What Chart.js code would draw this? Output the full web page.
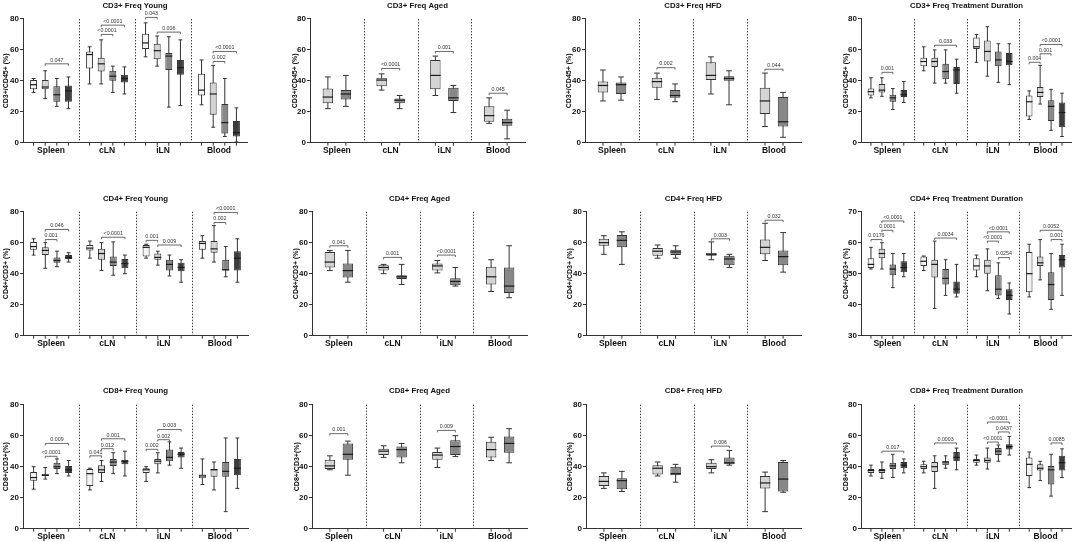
<!DOCTYPE html>
<html><head><meta charset="utf-8">
<script src="https://cdn.jsdelivr.net/npm/chart.js@4.4.1/dist/chart.umd.min.js"></script>
<style>
html,body{margin:0;padding:0;background:#fff;}
body{width:1072px;height:542px;position:relative;overflow:hidden;}
canvas{position:absolute;}
</style></head><body>
<script>
// ---------- DATA: each box = [min, q1, median, q3, max] per tissue ----------
const tissues = ['Spleen','cLN','iLN','Blood'];

// CD3+ Freq Young
const cd3YoungG1 = [[32.5,34.5,37.5,40.5,41.5],[38,48,57,59,62],[55.5,60.5,64.5,70.5,77.5],[24.5,30.5,34,44.5,53.5]];
const cd3YoungG2 = [[28.5,34.5,36,40.5,46.5],[38,46,51,55,66.5],[49.5,54,59.5,64,69],[10,18,31.5,39,50]];
const cd3YoungG3 = [[23.5,26.5,31,36.5,41.5],[32.5,40,43,46.5,49.5],[23,47,56,58,68.5],[4,6,13,25,41.5]];
const cd3YoungG4 = [[22,26.5,33.5,37,42.5],[31.5,39,41.5,44,49],[24,44,48.5,53.5,66.5],[0.5,4,6.5,14,22.5]];
const cd3YoungSig = [[0,1,3,51,'0.047'],[1,1,3,76,'<0.0001'],[1,1,2,70,'<0.0001'],[2,0,1,81,'0.043'],[2,1,3,71.5,'0.006'],[3,1,3,59,'<0.0001'],[3,1,2,52.5,'0.002']];

// CD3+ Freq Aged
const cd3AgedG1 = [[22,25.5,29.5,35,42.5],[34,36.5,40.5,42,44.5],[30.5,34.5,43.5,53.5,56],[12.5,13.5,17.5,23.5,29]];
const cd3AgedG2 = [[23.5,28,31.5,34,43.5],[22,25.5,27.5,28.5,30.5],[19.5,27,29,35.5,37],[2.5,11,13,15.5,21]];
const cd3AgedSig = [[1,0,1,48,'<0.0001'],[2,0,1,59,'0.001'],[3,0,1,32,'0.045']];

// CD3+ Freq HFD
const cd3HfdG1 = [[27,32.5,37,39.5,47],[28,35.5,39.5,42,45],[31.5,40.5,43.5,52,55.5],[10.5,18.5,27,35.5,45]];
const cd3HfdG2 = [[27.5,31.5,37.5,39,42.5],[26.5,29,30.5,34,38],[24.5,40,41.5,43,46.5],[3.5,10.5,13.5,29.5,32.5]];
const cd3HfdSig = [[1,0,1,48.5,'0.002'],[3,0,1,47.5,'0.044']];

// CD3+ Freq Treatment Duration
const cd3DurG1 = [[29,30.5,33,35,42],[46.5,49.5,52.5,55,62],[52,60.5,62,68,70],[15,17,26.5,30.5,33.5]];
const cd3DurG2 = [[30,32.5,34,38,42],[38.5,49,52.5,55,60],[43,52.5,59,66,75],[25,29.5,32.5,36,50]];
const cd3DurG3 = [[21.5,26.5,29,31,35],[38.5,41,46,51,60],[39,49.5,53.5,59,64],[8,14,23.5,27.5,34.5]];
const cd3DurG4 = [[26,29.5,31,34,39.5],[32,38,47,49,54],[37.5,50,52.5,58,64],[4,10,19.5,26,32]];
const cd3DurSig = [[0,1,2,45.5,'0.001'],[1,1,3,63,'0.033'],[3,0,1,52,'0.004'],[3,1,2,57.5,'0.001'],[3,1,3,63.5,'<0.0001']];

// CD4+ Freq Young
const cd4YoungG1 = [[52,55.5,57.5,60.5,62.5],[50,55,56.5,58.5,61],[50,51,57,58.5,59],[50,55.5,59.5,61,64.5]];
const cd4YoungG2 = [[43.5,52,55,57,60],[42,49,53,56,60],[45.5,49,50.5,53,54.5],[47.5,53.5,56,61,71]];
const cd4YoungG3 = [[44.5,47,48.5,50.5,54.5],[39,45,47.5,51,60.5],[38.5,42,46,49,52],[38,42,42.5,49,57.5]];
const cd4YoungG4 = [[47.5,49.5,50.5,52,53.5],[40,43.5,46.5,49.5,52],[34.5,41.5,44,47,49],[34.5,42,50,54.5,62.5]];
const cd4YoungSig = [[0,1,3,68.5,'0.046'],[0,1,2,62,'0.001'],[1,1,3,63.5,'<0.0001'],[2,0,1,61.5,'0.001'],[2,1,3,58.5,'0.009'],[3,1,3,79.5,'<0.0001'],[3,1,2,73,'0.002']];

// CD4+ Freq Aged
const cd4AgedG1 = [[42,44,47.5,54,55],[40,42,44,45.5,46],[40.5,42,45,46.5,48.5],[28.5,33,38,44.5,49]];
const cd4AgedG2 = [[34.5,37.5,42,46.5,55],[33,36.5,38,39,46],[32,32.5,35,37,44],[24.5,27.5,32,44,58]];
const cd4AgedSig = [[0,0,1,58,'0.041'],[1,0,1,50.5,'0.001'],[2,0,1,52,'<0.0001']];

// CD4+ Freq HFD
const cd4HfdG1 = [[52.5,58,60,62.5,64.5],[50,51.5,54.5,56.5,58.5],[49,51.5,52.5,53.5,60.5],[48.5,52.5,57,62,72.5]];
const cd4HfdG2 = [[46,57,61.5,65,67],[50,52,54,55.5,58],[44,45.5,49.5,51.5,52.5],[41,45.5,51,55,66.5]];
const cd4HfdSig = [[2,0,1,62.5,'0.003'],[3,0,1,74.5,'0.032']];

// CD4+ Freq Treatment Duration
const cd4DurG1 = [[51.5,51.8,53,55,58.5],[51,52.5,54,55.5,55.7],[49,51,52.5,55,56],[42.5,44,50,57,59.5]];
const cd4DurG2 = [[51.5,55,56.5,58,60],[38.8,48.8,53,54.5,60.5],[44.5,50,52.5,54.5,58],[48,52.5,53.5,55.5,61]];
const cd4DurG3 = [[45.5,49.5,51.5,53,56.5],[43,46.5,48.5,51.5,54.5],[42,43,45,49.5,53.5],[38.5,41.5,46.5,50.5,56.5]];
const cd4DurG4 = [[49,50.5,52,54,56.5],[42.5,43.5,45,47.5,53],[37,41.5,43,45,47],[43,52,54.5,56,59.5]];
const cd4DurSig = [[0,0,1,61,'0.0176'],[0,1,2,64,'0.0001'],[0,1,3,67,'<0.0001'],[1,1,3,61.5,'0.0034'],[2,1,3,63.5,'<0.0001'],[2,1,2,60.5,'<0.0001'],[2,2,3,55.2,'0.0254'],[3,1,3,64,'0.0052'],[3,2,3,61,'0.001']];

// CD8+ Freq Young
const cd8YoungG1 = [[25.5,31,33,36.5,40],[25,27.5,35.5,38.5,39],[30.5,36,38,39,40],[28.5,32.5,34,35,45]];
const cd8YoungG2 = [[32,34,34.5,35.5,39.5],[30.5,36,38,41,44],[36,41.5,43.5,45,49],[25,33.5,38,38.5,43]];
const cd8YoungG3 = [[35.5,38.5,40,42.5,45],[35.5,40.5,43,45,49],[41,43.5,46,51,56],[11,33.5,37,43,58.5]];
const cd8YoungG4 = [[34,36,38,40.5,44],[34,41.5,43.5,44.5,50],[39,46,48,49.5,52],[26,34.5,39,45,58.5]];
const cd8YoungSig = [[0,1,3,55,'0.009'],[0,1,2,46.7,'<0.0001'],[1,0,1,47,'0.041'],[1,1,2,51.6,'0.012'],[1,1,3,58,'0.001'],[2,0,1,51.2,'0.002'],[2,1,2,57.4,'0.002'],[2,1,3,64,'0.003']];

// CD8+ Freq Aged
const cd8AgedG1 = [[38,38.5,40.5,44.5,47],[46,47.5,50,51.5,53.5],[39.5,44.5,47.5,49.5,52],[44,46,51,56,59]];
const cd8AgedG2 = [[34.5,44.5,48,55,56.5],[42.5,46,51,53,55],[46.5,47.5,53,57,60],[42.5,49,55,59.5,64.5]];
const cd8AgedSig = [[0,0,1,61.3,'0.001'],[2,0,1,63.4,'0.009']];

// CD8+ Freq HFD
const cd8HfdG1 = [[26,27.5,30.5,34,36],[34,35,39,41,43],[36,38.5,40,42.5,44.5],[11,26,29.5,34,36.5]];
const cd8HfdG2 = [[24,25.5,31,32.5,37],[30,34.5,35.5,40,41.5],[41,41.5,42.5,46,50.5],[23.5,24,32,43,44]];
const cd8HfdSig = [[2,0,1,53.3,'0.006']];

// CD8+ Freq Treatment Duration
const cd8DurG1 = [[34,36,37.5,38.5,41],[36,38.5,40,41.5,43.5],[41,42.5,44,45,47.5],[26.5,34,41.5,46,49.5]];
const cd8DurG2 = [[32.5,36,37.5,38.5,43],[26,36.5,40,43,47],[38.5,42.5,44,46,52],[31,37.5,39,41.5,43.5]];
const cd8DurG3 = [[33,38.5,40.5,42.5,48],[39,41,43,43.5,47],[43.5,47.5,50,52,54],[21,28.5,38,40.5,48]];
const cd8DurG4 = [[36,39,41,43,45],[38,43.5,46,49.5,52],[47.5,51,53,54.5,59.5],[33,37.5,42.5,47,51.5]];
const cd8DurSig = [[0,1,3,50,'0.017'],[1,1,3,55.3,'0.0003'],[2,1,3,68.8,'<0.0001'],[2,2,3,62.4,'0.0437'],[2,1,2,55.9,'<0.0001'],[3,2,3,55.3,'0.0085']];

const titles = [
  ['CD3+ Freq Young','CD3+ Freq Aged','CD3+ Freq HFD','CD3+ Freq Treatment Duration'],
  ['CD4+ Freq Young','CD4+ Freq Aged','CD4+ Freq HFD','CD4+ Freq Treatment Duration'],
  ['CD8+ Freq Young','CD8+ Freq Aged','CD8+ Freq HFD','CD8+ Freq Treatment Duration']
];
const yTitles = ['CD3+/CD45+ (%)','CD4+/CD3+ (%)','CD8+/CD3+(%)'];
const yRanges = [[[0,80,20],[0,80,20],[0,80,20],[0,80,20]],[[0,80,20],[0,80,20],[0,80,20],[30,70,10]],[[0,80,20],[0,80,20],[0,80,20],[0,80,20]]];

const panelSeries = [
  [[cd3YoungG1,cd3YoungG2,cd3YoungG3,cd3YoungG4],[cd3AgedG1,cd3AgedG2],[cd3HfdG1,cd3HfdG2],[cd3DurG1,cd3DurG2,cd3DurG3,cd3DurG4]],
  [[cd4YoungG1,cd4YoungG2,cd4YoungG3,cd4YoungG4],[cd4AgedG1,cd4AgedG2],[cd4HfdG1,cd4HfdG2],[cd4DurG1,cd4DurG2,cd4DurG3,cd4DurG4]],
  [[cd8YoungG1,cd8YoungG2,cd8YoungG3,cd8YoungG4],[cd8AgedG1,cd8AgedG2],[cd8HfdG1,cd8HfdG2],[cd8DurG1,cd8DurG2,cd8DurG3,cd8DurG4]]
];
const panelSig = [
  [cd3YoungSig,cd3AgedSig,cd3HfdSig,cd3DurSig],
  [cd4YoungSig,cd4AgedSig,cd4HfdSig,cd4DurSig],
  [cd8YoungSig,cd8AgedSig,cd8HfdSig,cd8DurSig]
];

// ---------- LAYOUT / STYLE ----------
const FONT = '"Liberation Sans", Arial, Helvetica, sans-serif';
const fill4 = ['#f3f3f3','#d4d4d4','#888888','#3c3c3c'];
const fill2 = ['#d4d4d4','#888888'];
const colX = [0,268,536,804];
const colW = [268,268,268,268];
const rowY = [0,180,360];
const rowH = [180,180,182];
const plotL = [[23,310,585,861],[23,312,586,861],[23,312,586,861]];
const plotR = [[247,525,801,1072],[248,527,801,1072],[248,527,801,1072]];
const yTitleX = [[6,26.7,33,41.7],[5.7,27.7,34.3,41.7],[5.7,29.3,34.3,41.7]];
const rowPadTop = [1.5,13.8,26.5];
const rowTitleGap = [8.5,8.9,9.2];
const rowXH = [37.3,24.3,13.3];

function boxPlugin(sig){
  return {
    id:'boxplot',
    beforeDatasetsDraw(chart){
      const {ctx, chartArea:a, scales:{x,y}} = chart;
      ctx.save();
      ctx.strokeStyle = '#444'; ctx.lineWidth = 1; ctx.setLineDash([1.5,1.5]);
      const n = chart.data.labels.length;
      for (let i=0;i<n-1;i++){
        const px = Math.round((x.getPixelForValue(i)+x.getPixelForValue(i+1))/2)+0.5;
        ctx.beginPath(); ctx.moveTo(px,a.top); ctx.lineTo(px,a.bottom); ctx.stroke();
      }
      ctx.setLineDash([]);
      ctx.strokeStyle = '#333'; ctx.lineWidth = 1;
      chart.data.datasets.forEach((ds,di)=>{
        chart.getDatasetMeta(di).data.forEach((el,i)=>{
          const s = ds.stats[i]; const cw = el.width*0.55;
          const y0 = y.getPixelForValue(s[0]), y4 = y.getPixelForValue(s[4]);
          ctx.beginPath();
          ctx.moveTo(el.x,y0); ctx.lineTo(el.x,y4);
          ctx.moveTo(el.x-cw/2,y0); ctx.lineTo(el.x+cw/2,y0);
          ctx.moveTo(el.x-cw/2,y4); ctx.lineTo(el.x+cw/2,y4);
          ctx.stroke();
        });
      });
      ctx.restore();
    },
    afterDatasetsDraw(chart){
      const {ctx, chartArea:a, scales:{y}} = chart;
      ctx.save();
      chart.data.datasets.forEach((ds,di)=>{
        chart.getDatasetMeta(di).data.forEach((el,i)=>{
          const s = ds.stats[i];
          const ym = y.getPixelForValue(s[2]);
          ctx.strokeStyle = '#1a1a1a'; ctx.lineWidth = 1.2;
          ctx.beginPath(); ctx.moveTo(el.x-el.width/2,ym); ctx.lineTo(el.x+el.width/2,ym); ctx.stroke();
          ctx.strokeStyle = '#333'; ctx.lineWidth = 1;
          ctx.beginPath(); ctx.moveTo(el.x,a.bottom); ctx.lineTo(el.x,a.bottom+3); ctx.stroke();
        });
      });
      ctx.strokeStyle = '#444'; ctx.lineWidth = 0.8; ctx.fillStyle = '#333';
      ctx.font = '5.3px ' + FONT; ctx.textAlign = 'center'; ctx.textBaseline = 'bottom';
      sig.forEach(([t,sa,sb,v,label])=>{
        const xa = chart.getDatasetMeta(sa).data[t].x, xb = chart.getDatasetMeta(sb).data[t].x;
        const py = y.getPixelForValue(v);
        ctx.beginPath();
        ctx.moveTo(xa,py+2); ctx.lineTo(xa,py); ctx.lineTo(xb,py); ctx.lineTo(xb,py+2);
        ctx.stroke();
        ctx.fillText(label,(xa+xb)/2,py-1);
      });
      ctx.restore();
    }
  };
}

for (let r=0;r<3;r++){
  for (let c=0;c<4;c++){
    const cv = document.createElement('canvas');
    const cw = colW[c], ch = rowH[r];
    cv.width = cw; cv.height = ch;
    cv.style.left = colX[c]+'px'; cv.style.top = rowY[r]+'px';
    cv.style.width = cw+'px'; cv.style.height = ch+'px';
    document.body.appendChild(cv);
    const series = panelSeries[r][c];
    const four = series.length === 4;
    const fills = four ? fill4 : fill2;
    const yW = plotL[r][c] - colX[c];
    const padRight = colX[c] + cw - plotR[r][c];
    const xH = rowXH[r];
    const [ymin,ymax,step] = yRanges[r][c];
    new Chart(cv, {
      type:'bar',
      data:{
        labels: tissues,
        datasets: series.map((g,si)=>({
          data: g.map(b=>[b[1],b[3]]),
          stats: g,
          backgroundColor: fills[si],
          borderColor: '#333',
          borderWidth: 1,
          borderSkipped: false,
          categoryPercentage: four ? 0.83 : 0.67,
          barPercentage: four ? 0.6 : 0.58
        }))
      },
      options:{
        responsive:false, animation:false,
        events: [],
        layout:{padding:{left:0,top:rowPadTop[r],right:padRight,bottom:0}},
        plugins:{
          legend:{display:false}, tooltip:{enabled:false},
          title:{display:true, text:titles[r][c], fullSize:false, color:'#111',
            font:{family:FONT,size:7.8,weight:'bold',lineHeight:1.2},
            padding:{top:0,bottom:rowTitleGap[r]-0.4}}
        },
        scales:{
          x:{
            offset:true,
            grid:{display:false, drawTicks:false, drawOnChartArea:false},
            border:{display:true,color:'#333',width:1},
            ticks:{font:{family:FONT,size:8.5,weight:'bold'},color:'#111',padding:3,maxRotation:0,autoSkip:false},
            afterFit(s){ s.height = xH; }
          },
          y:{
            min:ymin, max:ymax,
            ticks:{stepSize:step,font:{family:FONT,size:8,weight:'bold'},color:'#111',padding:1},
            grid:{drawOnChartArea:false, drawTicks:true, tickLength:3, color:'#333', lineWidth:1},
            border:{display:true,color:'#333',width:1},
            title:{display:true,text:yTitles[r],color:'#111',
              font:{family:FONT,size:7,weight:'bold',lineHeight:1.2},
              padding:{top:yTitleX[r][c]-4.2,bottom:0}},
            afterFit(s){ s.width = yW; }
          }
        }
      },
      plugins:[boxPlugin(panelSig[r][c])]
    });
  }
}
</script>
</body></html>
